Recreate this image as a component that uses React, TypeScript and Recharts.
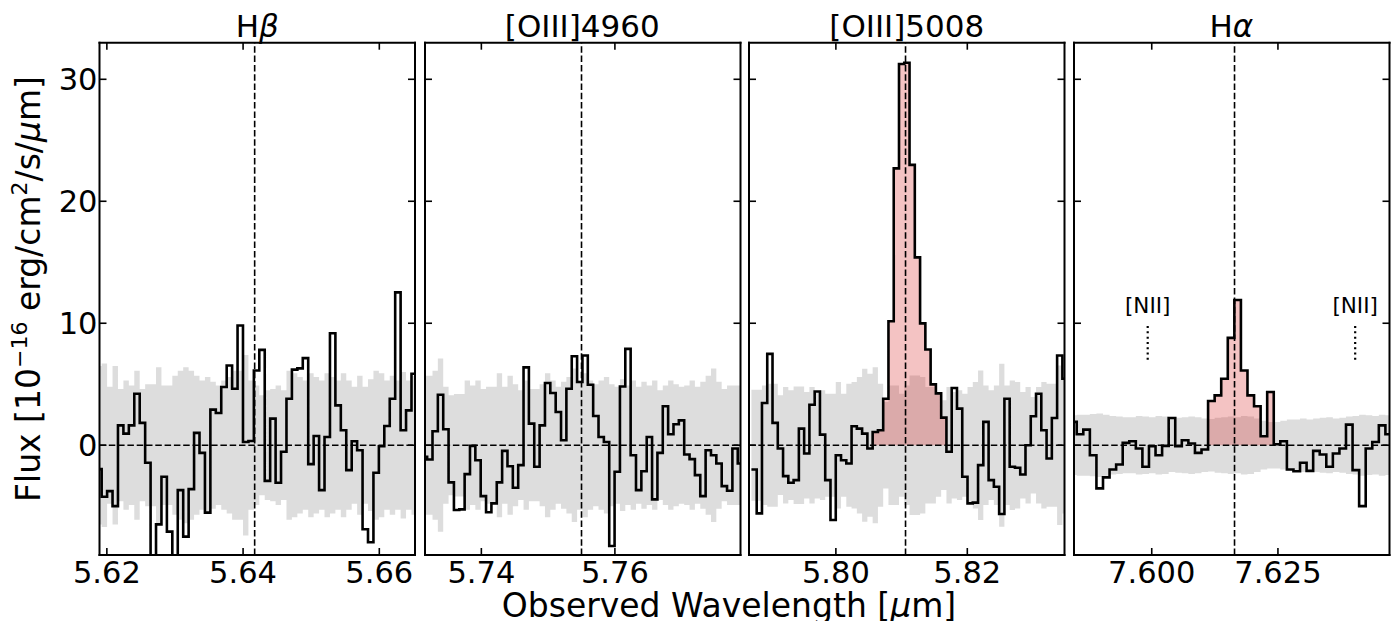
import React from 'react';
import { ComposedChart, Line, Area, XAxis, YAxis, ReferenceLine, ReferenceDot } from 'recharts';

const FONT = '"DejaVu Sans", "Liberation Sans", sans-serif';
const W = 1397;
const H = 621;

// ---- panel text ----
const TITLE_MAIN = ['H', '[OIII]4960', '[OIII]5008', 'H'];
const TITLE_GREEK = ['β', '', '', 'α'];

// ---- axes ----
const X_DOMAINS: number[][] = [
  [5.61892, 5.66524],
  [5.73156, 5.77881],
  [5.78678, 5.83479],
  [7.5846, 7.6471],
];
const X_TICKS: number[][] = [
  [5.62, 5.64, 5.66],
  [5.74, 5.76],
  [5.8, 5.82],
  [7.6, 7.625],
];
const TICK_DECIMALS = [2, 2, 2, 3];
const Y_DOMAIN = [-9, 33];
const Y_TICKS = [0, 10, 20, 30];

// line centres (observed wavelength, micron)
const LINE_CENTERS = [5.6417, 5.755, 5.8106, 7.6164];
const NII_WAVES = [7.5992, 7.6403];
const NII_MARK = [7.0, 10.0];
const NII_LABEL_Y = 10.85;

// ---- spectral bins ----
const BIN_START = [5.61844, 5.73108, 5.78715, 7.58384];
const BIN_WIDTH = [0.000798, 0.000802, 0.000802, 0.001301];

const FLUX_HB = [
  -1.96, -4.22, -3.76, -4.99, 1.63, 0.95, 1.63, 4.22, 1.83, -1.44,
  -10.5, -6.49, -2.59, -7.08, -10.5, -3.68, -7.49, -3.6, 1.01, -0.63,
  -5.53, 2.92, 2.64, 4.77, 6.54, 4.63, 9.81, 0.27, 0.35, 6.13,
  7.82, -2.92, 2.18, -3.08, -0.54, 3.81, 6.2, 6.3, 7.14, -1.55,
  0.76, -3.68, 0.68, 9.18, 3.27, 1.23, -2.04, 0.33, -0.41, -6.89,
  -7.96, -2.26, -0.08, 1.58, 3.81, 12.53, 1.23, 2.86, 5.86,
];
const ERR_HB = [
  6.5, 6.7, 4.8, 6.5, 4.6, 5.3, 4.9, 6.1, 4.6, 5.0,
  5.0, 6.4, 4.9, 4.9, 5.7, 6.1, 6.4, 6.1, 5.7, 5.3,
  5.6, 5.2, 4.9, 5.3, 5.6, 6.1, 6.1, 7.4, 5.3, 4.9,
  4.1, 4.5, 4.6, 4.9, 4.5, 6.1, 5.9, 5.6, 5.3, 5.9,
  5.6, 5.3, 5.9, 5.6, 5.3, 5.9, 5.3, 4.8, 5.7, 4.8,
  5.4, 6.1, 5.9, 5.3, 5.7, 5.3, 6.0, 5.3, 5.7,
];

const FLUX_O4960 = [
  -0.95, -1.17, 1.14, 4.14, 1.31, -3.05, -5.31, -5.26, -2.37, -0.05,
  -1.23, -4.17, -5.5, -4.77, -3.05, -0.46, -1.72, -3.49, -1.63, 6.38,
  1.77, -1.77, 1.63, 5.1, 4.28, 2.72, 0.41, 4.63, 7.3, 5.18,
  7.36, 4.96, 2.4, 0.68, 0.27, -8.26, -2.18, 4.82, 7.9, -0.82,
  -3.68, -2.13, 0.68, -4.44, -0.63, 3.19, 0.9, 1.72, 2.04, -0.76,
  -1.14, -2.45, -4.17, -0.41, -0.82, -1.5, -3.35, -3.73, -0.27, -1.5,
];
const ERR_O4960 = [
  5.7, 5.7, 6.1, 7.1, 4.8, 4.1, 4.2, 4.2, 5.3, 4.9,
  5.3, 4.6, 4.8, 4.8, 5.9, 4.8, 5.7, 5.0, 4.5, 5.3,
  4.6, 4.6, 5.0, 5.9, 5.3, 4.8, 5.2, 5.6, 6.3, 5.3,
  5.9, 5.3, 5.0, 5.3, 5.6, 5.0, 4.8, 5.4, 4.9, 5.3,
  4.8, 5.2, 4.9, 5.3, 4.5, 4.9, 5.3, 5.0, 4.8, 4.9,
  5.3, 4.8, 5.2, 5.7, 6.3, 5.2, 4.6, 4.9, 4.9, 4.9,
];

const FLUX_O5008 = [
  -1.99, -5.59, 3.46, 7.49, 1.83, -0.27, -2.53, -3.08, -2.86, 1.36,
  -0.68, 3.32, 4.41, 0.87, -2.86, -6.13, -0.82, -1.23, -1.5, 1.55,
  1.36, 0.95, -0.27, 1.09, 1.23, 3.81, 10.16, 22.7, 31.25, 31.36,
  22.98, 15.4, 9.99, 7.85, 4.99, 4.25, 2.26, -0.54, 4.69, 3.0,
  -2.59, -4.77, -4.71, -1.63, 1.91, -2.86, -3.41, -5.64, 3.81, -1.77,
  -1.85, -2.4, 0.0, 2.37, 4.22, 1.23, -1.09, 2.23, 7.36, 5.45,
];
const ERR_O5008 = [
  4.55, 4.55, 4.9, 5.04, 5.04, 4.09, 4.77, 4.5, 4.82, 4.82,
  4.36, 4.77, 4.36, 4.5, 4.22, 4.22, 5.18, 4.22, 5.04, 5.18,
  5.59, 6.27, 5.86, 6.4, 5.04, 3.54, 4.9, 4.9, 4.22, 4.9,
  5.72, 5.72, 5.59, 4.77, 4.77, 4.22, 3.68, 4.77, 4.36, 4.5,
  4.22, 4.77, 5.18, 6.13, 4.9, 4.5, 4.9, 6.68, 4.9, 5.31,
  5.18, 4.36, 4.77, 3.95, 4.77, 5.18, 5.04, 5.04, 6.54, 5.59,
];

const FLUX_HA = [
  1.91, 0.9, 1.28, -0.82, -3.54, -2.64, -1.99, -1.58, 0.19, 0.33,
  -0.27, -1.77, -0.08, -0.82, -0.05, 2.23, -0.08, 0.41, 0.14, -0.63,
  -0.35, 3.62, 4.09, 5.45, 8.8, 11.91, 6.13, 4.09, 3.19, 0.74,
  4.36, 0.08, 0.33, -1.99, -2.13, -1.44, -2.1, -0.46, -0.76, -1.77,
  -0.68, -0.27, 1.69, -2.04, -4.99, -0.27, 0.27, 1.63, 0.9,
];
const ERR_HA = [
  2.45, 2.5, 2.5, 2.55, 2.6, 2.5, 2.4, 2.35, 2.3, 2.3,
  2.4, 2.35, 2.3, 2.4, 2.35, 2.2, 2.25, 2.3, 2.35, 2.3,
  2.2, 2.15, 2.25, 2.3, 2.35, 2.3, 2.4, 2.35, 2.2, 2.0,
  1.9, 1.9, 2.0, 2.1, 2.1, 2.2, 2.1, 2.2, 2.25, 2.3,
  2.2, 2.25, 2.35, 2.4, 2.5, 2.45, 2.4, 2.5, 2.45,
];

const FLUXES = [FLUX_HB, FLUX_O4960, FLUX_O5008, FLUX_HA];
const ERRS = [ERR_HB, ERR_O4960, ERR_O5008, ERR_HA];
// first and last bin index of the fitted (red) emission region
const RED_RANGE: (number[] | null)[] = [null, null, [23, 36], [21, 30]];

// ---- layout ----
const PLOT_LEFT = [99.5, 424.5, 749, 1073.5];
const PLOT_W = 315.5;
const PLOT_TOP = 42.7;
const PLOT_BOTTOM = 555;
const TICK_LEN = 7;
const TICK_FS = 30.5;

const AXIS_LINE = { stroke: '#000', strokeWidth: 2, strokeLinecap: 'square' };

function buildRows(idx: number) {
  const flux = FLUXES[idx];
  const err = ERRS[idx];
  const start = BIN_START[idx];
  const dw = BIN_WIDTH[idx];
  const rows = flux.map((f, i) => ({ w: start + i * dw, flux: f, band: [-err[i], err[i]] }));
  const n = flux.length;
  rows.push({ w: start + n * dw, flux: flux[n - 1], band: [-err[n - 1], err[n - 1]] });
  return rows;
}

function buildRed(idx: number) {
  const range = RED_RANGE[idx];
  if (!range) return null;
  const flux = FLUXES[idx];
  const start = BIN_START[idx];
  const dw = BIN_WIDTH[idx];
  const rows: { w: number; red: number }[] = [];
  for (let i = range[0]; i <= range[1]; i++) rows.push({ w: start + i * dw, red: flux[i] });
  rows.push({ w: start + (range[1] + 1) * dw, red: flux[range[1]] });
  return rows;
}

const makeBottomTick = (dec: number) => (p: any) => (
  <g>
    <line x1={p.x} x2={p.x} y1={p.y} y2={p.y - TICK_LEN} stroke="#000" strokeWidth={1.6} />
    <text x={p.x} y={p.y + 28.3} textAnchor="middle" fontSize={TICK_FS} fontFamily={FONT} fill="#000">
      {Number(p.payload.value).toFixed(dec)}
    </text>
  </g>
);
const topTick = (p: any) => (
  <line x1={p.x} x2={p.x} y1={p.y} y2={p.y + TICK_LEN} stroke="#000" strokeWidth={1.6} />
);
const makeLeftTick = (showLabel: boolean) => (p: any) => (
  <g>
    <line x1={p.x} x2={p.x + TICK_LEN} y1={p.y} y2={p.y} stroke="#000" strokeWidth={1.6} />
    {showLabel ? (
      <text x={p.x - 2} y={p.y + 11} textAnchor="end" fontSize={TICK_FS} fontFamily={FONT} fill="#000">
        {p.payload.value}
      </text>
    ) : null}
  </g>
);
const rightTick = (p: any) => (
  <line x1={p.x} x2={p.x - TICK_LEN} y1={p.y} y2={p.y} stroke="#000" strokeWidth={1.6} />
);

function Panel({ idx }: { idx: number }) {
  const padL = idx === 0 ? PLOT_LEFT[0] : 5;
  const padR = 5;
  const left = PLOT_LEFT[idx] - padL;
  const width = padL + PLOT_W + padR;
  const rows = buildRows(idx);
  const red = buildRed(idx);
  const ax = { xAxisId: 'b', yAxisId: 'l' };
  return (
    <div style={{ position: 'absolute', left, top: 0, width, height: H }}>
      <ComposedChart width={width} height={H} margin={{ top: 0, right: 0, bottom: 0, left: 0 }}>
        <XAxis
          xAxisId="b"
          dataKey="w"
          type="number"
          domain={X_DOMAINS[idx]}
          allowDataOverflow
          ticks={X_TICKS[idx]}
          interval={0}
          height={H - PLOT_BOTTOM}
          tickLine={false}
          tickSize={0}
          tickMargin={0}
          axisLine={AXIS_LINE}
          tick={makeBottomTick(TICK_DECIMALS[idx])}
        />
        <XAxis
          xAxisId="t"
          orientation="top"
          dataKey="w"
          type="number"
          domain={X_DOMAINS[idx]}
          allowDataOverflow
          ticks={X_TICKS[idx]}
          interval={0}
          height={PLOT_TOP}
          tickLine={false}
          tickSize={0}
          tickMargin={0}
          axisLine={AXIS_LINE}
          tick={topTick}
        />
        <YAxis
          yAxisId="l"
          type="number"
          domain={Y_DOMAIN}
          allowDataOverflow
          ticks={Y_TICKS}
          interval={0}
          width={padL}
          tickLine={false}
          tickSize={0}
          tickMargin={0}
          axisLine={AXIS_LINE}
          tick={makeLeftTick(idx === 0)}
        />
        <YAxis
          yAxisId="r"
          orientation="right"
          type="number"
          domain={Y_DOMAIN}
          allowDataOverflow
          ticks={Y_TICKS}
          interval={0}
          width={padR}
          tickLine={false}
          tickSize={0}
          tickMargin={0}
          axisLine={AXIS_LINE}
          tick={rightTick}
        />
        <Area
          {...ax}
          data={rows}
          dataKey="band"
          type="stepAfter"
          stroke="none"
          fill="#dddddd"
          fillOpacity={1}
          dot={false}
          activeDot={false}
          isAnimationActive={false}
        />
        {red ? (
          <Area
            {...ax}
            data={red}
            dataKey="red"
            baseValue={0}
            type="stepAfter"
            stroke="none"
            fill="#d62728"
            fillOpacity={0.28}
            dot={false}
            activeDot={false}
            isAnimationActive={false}
          />
        ) : null}
        <Line
          {...ax}
          data={rows}
          dataKey="flux"
          type="stepAfter"
          stroke="#000"
          strokeWidth={2.6}
          dot={false}
          activeDot={false}
          isAnimationActive={false}
        />
        <ReferenceLine {...ax} y={0} stroke="#000" strokeWidth={1.6} strokeDasharray="6.5 2.8" />
        <ReferenceLine {...ax} x={LINE_CENTERS[idx]} stroke="#000" strokeWidth={1.6} strokeDasharray="6.5 2.8" />
        {idx === 3
          ? NII_WAVES.map((wv) => (
              <ReferenceLine
                key={'s' + wv}
                {...ax}
                segment={[
                  { x: wv, y: NII_MARK[0] },
                  { x: wv, y: NII_MARK[1] },
                ]}
                stroke="#000"
                strokeWidth={2.2}
                strokeDasharray="2 3.3"
              />
            ))
          : null}
        {idx === 3
          ? NII_WAVES.map((wv) => (
              <ReferenceDot
                key={'d' + wv}
                {...ax}
                x={wv}
                y={NII_LABEL_Y}
                r={0}
                fill="none"
                stroke="none"
                label={{ value: '[NII]', position: 'top', offset: 0, fill: '#000', fontSize: 21.5, fontFamily: FONT }}
              />
            ))
          : null}
      </ComposedChart>
    </div>
  );
}

export default function App() {
  return (
    <div style={{ position: 'absolute', left: 0, top: 0, width: W, height: H, background: '#fff', overflow: 'hidden' }}>
      {[0, 1, 2, 3].map((i) => (
        <Panel key={i} idx={i} />
      ))}
      <svg width={W} height={H} style={{ position: 'absolute', left: 0, top: 0, pointerEvents: 'none' }}>
        {[0, 1, 2, 3].map((i) => (
          <text
            key={i}
            x={PLOT_LEFT[i] + PLOT_W / 2}
            y={36.5}
            textAnchor="middle"
            fontSize={31}
            fontFamily={FONT}
            fill="#000"
          >
            {TITLE_MAIN[i]}
            {TITLE_GREEK[i] ? <tspan fontStyle="italic">{TITLE_GREEK[i]}</tspan> : null}
          </text>
        ))}
        <text x={729} y={617} textAnchor="middle" fontSize={33} fontFamily={FONT} fill="#000">
          {'Observed Wavelength ['}
          <tspan fontStyle="italic">μ</tspan>
          {'m]'}
        </text>
        <text transform="translate(40,289) rotate(-90)" textAnchor="middle" fontSize={33} fontFamily={FONT} fill="#000">
          {'Flux [10'}
          <tspan dy={-13} fontSize={22}>
            {'−16'}
          </tspan>
          <tspan dy={13}>{' erg/cm'}</tspan>
          <tspan dy={-13} fontSize={22}>
            {'2'}
          </tspan>
          <tspan dy={13}>{'/s/'}</tspan>
          <tspan fontStyle="italic">μ</tspan>
          {'m]'}
        </text>
      </svg>
    </div>
  );
}
